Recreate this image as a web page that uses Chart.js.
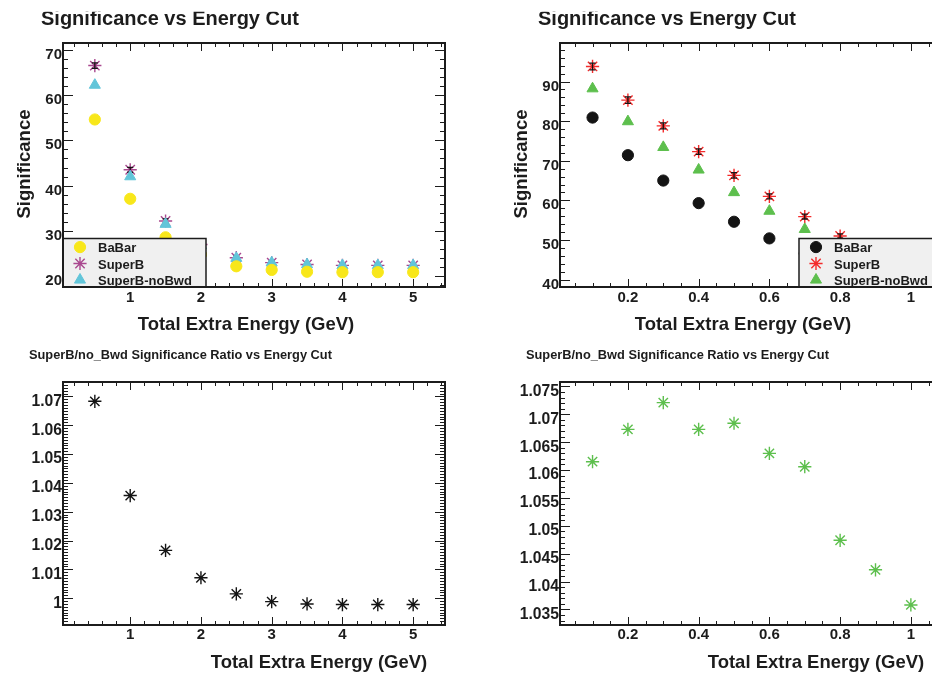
<!DOCTYPE html>
<html>
<head>
<meta charset="utf-8">
<title>Significance vs Energy Cut</title>
<script src="https://cdn.jsdelivr.net/npm/chart.js"></script>
<style>
    html, body { margin: 0; padding: 0; background: #fff; }
    body { width: 932px; height: 673px; overflow: hidden; position: relative; }
    canvas { position: absolute; }
    #sigCoarse { left: 0; top: 0; }
    #sigFine { left: 497px; top: 0; }
    #ratioCoarse { left: 0; top: 340px; }
    #ratioFine { left: 497px; top: 340px; }
</style>
</head>
<body>

<canvas id="sigCoarse" width="466" height="340"></canvas>
<canvas id="sigFine" width="466" height="340"></canvas>
<canvas id="ratioCoarse" width="466" height="333"></canvas>
<canvas id="ratioFine" width="466" height="333"></canvas>

<script>
// energy cut points (GeV)
const cutCoarse = [0.5, 1, 1.5, 2, 2.5, 3, 3.5, 4, 4.5, 5];
const cutFine = [0.1, 0.2, 0.3, 0.4, 0.5, 0.6, 0.7, 0.8, 0.9, 1.0];

// significance, wide cut scan
const babarCoarse = [54.6, 37.1, 28.6, 24.8, 22.2, 21.4, 21.0, 20.9, 20.9, 20.9];
const superBCoarse = [66.5, 43.5, 32.2, 27.0, 24.1, 23.0, 22.6, 22.4, 22.4, 22.4];
const superBErrCoarse = [0.6, 0.55, 0.45, 0.4, 0.35, 0.35, 0.35, 0.35, 0.35, 0.35];
const noBwdCoarse = [62.2, 42.0, 31.5, 26.8, 24.0, 23.0, 22.6, 22.4, 22.4, 22.4];

// significance, fine cut scan
const babarFine = [80.9, 71.4, 65.0, 59.3, 54.6, 50.4, 46.6, 43.2, 40.3, 38.6];
const superBFine = [93.8, 85.3, 78.8, 72.3, 66.3, 61.0, 55.9, 51.0, 46.5, 42.5];
const superBErrFine = [0.85, 0.8, 0.75, 0.7, 0.7, 0.65, 0.6, 0.55, 0.5, 0.5];
const noBwdFine = [88.2, 79.9, 73.4, 67.7, 62.0, 57.3, 52.7, 48.7, 44.6, 41.0];

// SuperB / no_Bwd ratio
const ratioCoarse = [1.0683, 1.0356, 1.0166, 1.0071, 1.0015, 0.9988, 0.9980, 0.9978, 0.9978, 0.9978];
const ratioFine = [1.0615, 1.0673, 1.0721, 1.0673, 1.0684, 1.0630, 1.0606, 1.0474, 1.0421, 1.0358];

// axis labels
const xTicksCoarse = [1, 2, 3, 4, 5];
const xTicksFine = [0.2, 0.4, 0.6, 0.8, 1];
const yTicksSigCoarse = [20, 30, 40, 50, 60, 70];
const yTicksSigFine = [40, 50, 60, 70, 80, 90];
const yTicksRatioCoarse = [1, 1.01, 1.02, 1.03, 1.04, 1.05, 1.06, 1.07];
const yTicksRatioFine = [1.035, 1.04, 1.045, 1.05, 1.055, 1.06, 1.065, 1.07, 1.075];

// axis ranges
const xRangeCoarse = [0.05, 5.45];
const xRangeFine = [0.008, 1.088];
const yRangeSigCoarse = [17.63, 71.48];
const yRangeSigFine = [38.13, 99.72];
const yRangeRatioCoarse = [0.9907, 1.075];
const yRangeRatioFine = [1.0322, 1.0758];

const FONT = '"Liberation Sans", Arial, Helvetica, sans-serif';
const INK = '#1c1c1c';

const YELLOW = '#f8e71a';
const CYAN = '#62c5d9';
const PURPLE = '#a9488f';
const RED = '#f42b2b';
const GREEN = '#5dbf4d';
const BLACK = '#141414';

const R_CIRCLE = 5.6;
const R_TRIANGLE = 6.4;
const R_STAR = 6.6;

function points(xs, ys) {
    return xs.map((x, i) => ({ x: x, y: ys[i] }));
}

function series(label, xs, ys, style, color, radius) {
    return {
        label: label,
        data: points(xs, ys),
        pointStyle: style,
        pointRadius: radius,
        pointBorderWidth: style === 'star' ? 1.4 : 1,
        borderColor: color,
        backgroundColor: color,
        showLine: false
    };
}

function drawMarker(ctx, style, color, radius, x, y) {
    ctx.save();
    ctx.strokeStyle = color;
    ctx.fillStyle = color;
    ctx.lineWidth = style === 'star' ? 1.4 : 1;
    if (Chart.helpers && Chart.helpers.drawPoint) {
        Chart.helpers.drawPoint(ctx, { pointStyle: style, radius: radius, rotation: 0, borderWidth: ctx.lineWidth }, x, y);
    }
    ctx.restore();
}

// frame, inner ticks on all sides, titles, legend box and error bars
function rootFrame(cfg) {
    return {
        id: 'rootFrame',
        afterDatasetDraw(chart, args) {
            if (!cfg.errors || args.index !== cfg.errors.dataset) return;
            const { ctx, scales: { x, y } } = chart;
            const e = cfg.errors;
            ctx.save();
            ctx.strokeStyle = BLACK;
            ctx.lineWidth = 1.3;
            ctx.beginPath();
            e.xs.forEach((xv, i) => {
                const px = x.getPixelForValue(xv);
                const lo = y.getPixelForValue(e.ys[i] - e.err[i]);
                const hi = y.getPixelForValue(e.ys[i] + e.err[i]);
                ctx.moveTo(px, lo); ctx.lineTo(px, hi);
                ctx.moveTo(px - 3, lo); ctx.lineTo(px + 3, lo);
                ctx.moveTo(px - 3, hi); ctx.lineTo(px + 3, hi);
            });
            ctx.stroke();
            ctx.restore();
        },
        afterDraw(chart) {
            const { ctx, chartArea: a, scales: { x, y } } = chart;
            ctx.save();

            // tick marks
            ctx.strokeStyle = INK;
            ctx.lineWidth = 1;
            ctx.beginPath();
            const xTick = (v, len) => {
                const px = Math.round(x.getPixelForValue(v)) + 0.5;
                ctx.moveTo(px, a.bottom); ctx.lineTo(px, a.bottom - len);
                ctx.moveTo(px, a.top); ctx.lineTo(px, a.top + len);
            };
            const yTick = (v, len) => {
                const py = Math.round(y.getPixelForValue(v)) + 0.5;
                ctx.moveTo(a.left, py); ctx.lineTo(a.left + len, py);
                ctx.moveTo(a.right, py); ctx.lineTo(a.right - len, py);
            };
            for (let k = Math.ceil(x.min / cfg.xMinor - 1e-6); k * cfg.xMinor <= x.max; k++) xTick(k * cfg.xMinor, 4);
            for (let k = Math.ceil(y.min / cfg.yMinor - 1e-6); k * cfg.yMinor <= y.max; k++) yTick(k * cfg.yMinor, 5);
            cfg.xMajor.forEach(v => xTick(v, 8));
            cfg.yMajor.forEach(v => yTick(v, 10));
            ctx.stroke();

            // legend
            if (cfg.legend) {
                const w = 143, h = 48.5;
                const left = cfg.legend.side === 'left' ? a.left : a.right - w;
                const top = a.bottom - h;
                ctx.fillStyle = '#f0f0f0';
                ctx.fillRect(left, top, w, h);
                ctx.strokeStyle = INK;
                ctx.lineWidth = 1.5;
                ctx.strokeRect(left, top, w, h);
                ctx.font = 'bold 13px ' + FONT;
                ctx.textAlign = 'left';
                ctx.textBaseline = 'alphabetic';
                cfg.legend.items.forEach((it, i) => {
                    drawMarker(ctx, it.style, it.color, it.radius, left + 17, top + 8.6 + i * 16.4);
                    ctx.fillStyle = INK;
                    ctx.fillText(it.label, left + 35, top + 13.6 + i * 16.6);
                });
            }

            // frame
            ctx.strokeStyle = INK;
            ctx.lineWidth = 2;
            ctx.strokeRect(a.left, a.top, a.right - a.left, a.bottom - a.top);

            // titles
            ctx.fillStyle = INK;
            ctx.textBaseline = 'alphabetic';
            const t = cfg.title;
            ctx.save();
            ctx.beginPath();
            ctx.rect(0, t.clip, chart.width, chart.height);
            ctx.clip();
            ctx.font = 'bold ' + t.size + 'px ' + FONT;
            ctx.textAlign = 'left';
            ctx.fillText(t.text, t.x, t.y);
            ctx.restore();

            ctx.font = 'bold 18.5px ' + FONT;
            ctx.textAlign = 'center';
            ctx.fillText(cfg.xTitle.text, cfg.xTitle.x, cfg.xTitle.y);
            if (cfg.yTitle) {
                ctx.save();
                ctx.translate(cfg.yTitle.x, cfg.yTitle.y);
                ctx.rotate(-Math.PI / 2);
                ctx.fillText(cfg.yTitle.text, 0, 0);
                ctx.restore();
            }
            ctx.restore();
        }
    };
}

function makeChart(id, datasets, o) {
    const canvas = document.getElementById(id);
    return new Chart(canvas, {
        type: 'scatter',
        data: { datasets: datasets },
        options: {
            responsive: false,
            animation: false,
            devicePixelRatio: 1,
            events: [],
            layout: { padding: { left: 0, top: o.top, right: 21, bottom: 0 } },
            plugins: { legend: { display: false }, tooltip: { enabled: false } },
            scales: {
                x: {
                    type: 'linear',
                    min: o.xRange[0],
                    max: o.xRange[1],
                    afterBuildTicks: s => { s.ticks = o.xTicks.map(v => ({ value: v })); },
                    afterFit: s => { s.height = canvas.height - o.bottom; },
                    grid: { display: false, drawTicks: false },
                    border: { display: false },
                    ticks: {
                        autoSkip: false,
                        maxRotation: 0,
                        padding: o.xPad,
                        color: INK,
                        font: { family: FONT, size: 15, weight: 'bold' },
                        callback: v => String(v)
                    }
                },
                y: {
                    type: 'linear',
                    min: o.yRange[0],
                    max: o.yRange[1],
                    afterBuildTicks: s => { s.ticks = o.yTicks.map(v => ({ value: v })); },
                    afterFit: s => { s.width = 63; },
                    grid: { display: false, drawTicks: false },
                    border: { display: false },
                    ticks: {
                        autoSkip: false,
                        padding: 1,
                        labelOffset: 5,
                        color: INK,
                        font: { family: FONT, size: o.yFont, weight: 'bold' },
                        callback: v => String(v)
                    }
                }
            }
        },
        plugins: [rootFrame(o.deco)]
    });
}

const sigTitle = { text: 'Significance vs Energy Cut', x: 41, y: 25, size: 20, clip: 11.7 };
const ratioTitle = { text: 'SuperB/no_Bwd Significance Ratio vs Energy Cut', x: 29, y: 19, size: 12.8, clip: 0 };
const xTitleTop = { text: 'Total Extra Energy (GeV)', x: 246, y: 330 };
const xTitleBottom = { text: 'Total Extra Energy (GeV)', x: 319, y: 328 };
const yTitleSig = { text: 'Significance', x: 29.5, y: 164 };

// top left: significance, wide scan
makeChart('sigCoarse', [
    series('BaBar', cutCoarse, babarCoarse, 'circle', YELLOW, R_CIRCLE),
    series('SuperB-noBwd', cutCoarse, noBwdCoarse, 'triangle', CYAN, R_TRIANGLE),
    series('SuperB', cutCoarse, superBCoarse, 'star', PURPLE, R_STAR)
], {
    top: 43, bottom: 287, xRange: xRangeCoarse, yRange: yRangeSigCoarse,
    xTicks: xTicksCoarse, yTicks: yTicksSigCoarse, xPad: 2, yFont: 15,
    deco: {
        xMajor: xTicksCoarse, yMajor: yTicksSigCoarse, xMinor: 0.2, yMinor: 2,
        title: sigTitle, xTitle: xTitleTop, yTitle: yTitleSig,
        errors: { dataset: 2, xs: cutCoarse, ys: superBCoarse, err: superBErrCoarse },
        legend: {
            side: 'left',
            items: [
                { label: 'BaBar', style: 'circle', color: YELLOW, radius: R_CIRCLE },
                { label: 'SuperB', style: 'star', color: PURPLE, radius: R_STAR },
                { label: 'SuperB-noBwd', style: 'triangle', color: CYAN, radius: R_TRIANGLE }
            ]
        }
    }
});

// top right: significance, fine scan
makeChart('sigFine', [
    series('BaBar', cutFine, babarFine, 'circle', BLACK, R_CIRCLE),
    series('SuperB-noBwd', cutFine, noBwdFine, 'triangle', GREEN, R_TRIANGLE),
    series('SuperB', cutFine, superBFine, 'star', RED, R_STAR)
], {
    top: 43, bottom: 287, xRange: xRangeFine, yRange: yRangeSigFine,
    xTicks: xTicksFine, yTicks: yTicksSigFine, xPad: 2, yFont: 15,
    deco: {
        xMajor: xTicksFine, yMajor: yTicksSigFine, xMinor: 0.05, yMinor: 2,
        title: sigTitle, xTitle: xTitleTop, yTitle: yTitleSig,
        errors: { dataset: 2, xs: cutFine, ys: superBFine, err: superBErrFine },
        legend: {
            side: 'right',
            items: [
                { label: 'BaBar', style: 'circle', color: BLACK, radius: R_CIRCLE },
                { label: 'SuperB', style: 'star', color: RED, radius: R_STAR },
                { label: 'SuperB-noBwd', style: 'triangle', color: GREEN, radius: R_TRIANGLE }
            ]
        }
    }
});

// bottom left: ratio, wide scan
makeChart('ratioCoarse', [
    series('SuperB/no_Bwd', cutCoarse, ratioCoarse, 'star', BLACK, R_STAR)
], {
    top: 42, bottom: 285, xRange: xRangeCoarse, yRange: yRangeRatioCoarse,
    xTicks: xTicksCoarse, yTicks: yTicksRatioCoarse, xPad: 1, yFont: 15.7,
    deco: {
        xMajor: xTicksCoarse, yMajor: yTicksRatioCoarse, xMinor: 0.2, yMinor: 0.001,
        title: ratioTitle, xTitle: xTitleBottom
    }
});

// bottom right: ratio, fine scan
makeChart('ratioFine', [
    series('SuperB/no_Bwd', cutFine, ratioFine, 'star', GREEN, R_STAR)
], {
    top: 42, bottom: 285, xRange: xRangeFine, yRange: yRangeRatioFine,
    xTicks: xTicksFine, yTicks: yTicksRatioFine, xPad: 1, yFont: 15.7,
    deco: {
        xMajor: xTicksFine, yMajor: yTicksRatioFine, xMinor: 0.05, yMinor: 0.001,
        title: ratioTitle, xTitle: xTitleBottom
    }
});
</script>

</body>
</html>
